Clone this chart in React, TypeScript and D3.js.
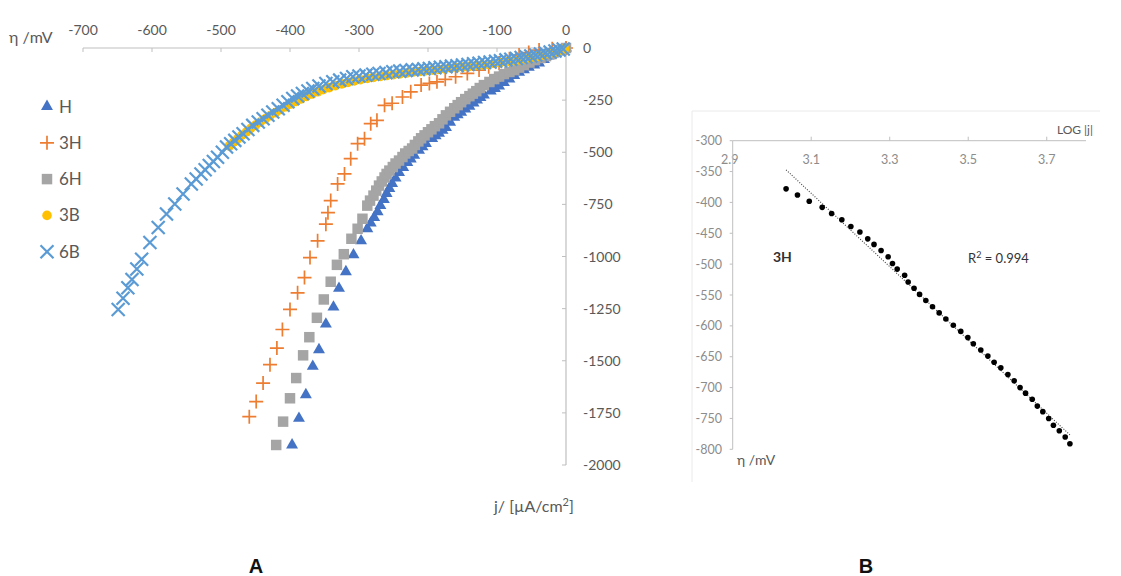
import React from 'react';
import * as d3 from 'd3';

type Pt = [number, number];

// ---- Panel A: polarisation curves (j in µA/cm², η in mV)
const J_TICKS = [-700, -600, -500, -400, -300, -200, -100, 0];
const ETA_TICKS = [0, -250, -500, -750, -1000, -1250, -1500, -1750, -2000];

const H_PTS: Pt[] = [
  [-397, -1904], [-387, -1776], [-377, -1663], [-367, -1527], [-358, -1447], [-348, -1324],
  [-337, -1243], [-329, -1153], [-319, -1073], [-308, -992], [-297, -925], [-288, -867],
  [-283, -840], [-278, -813], [-273, -785], [-269, -756], [-264, -727], [-260, -698],
  [-256, -674], [-252, -650], [-247, -624], [-242, -597], [-236, -573], [-230, -549],
  [-225, -532], [-220, -515], [-213, -491], [-208, -474], [-203, -458], [-194, -434],
  [-189, -421], [-184, -409], [-179, -395], [-174, -381], [-168, -356], [-162, -332],
  [-157, -320], [-152, -308], [-146, -293], [-140, -279], [-134, -264], [-129, -250],
  [-124, -238], [-119, -226], [-109, -207], [-103, -195], [-97, -183], [-90, -166],
  [-82, -149], [-75, -132], [-68, -116], [-61, -104], [-54, -92], [-46, -82], [-39, -72],
  [-32, -55], [-25, -39], [-19, -29], [-13, -19], [-6, -9], [0, 0],
];

const H3_PTS: Pt[] = [
  [-459, -1768], [-449, -1696], [-439, -1607], [-429, -1519], [-419, -1439], [-411, -1350],
  [-400, -1254], [-389, -1174], [-379, -1101], [-371, -1005], [-360, -925], [-348, -845],
  [-345, -790], [-341, -732], [-331, -652], [-321, -604], [-312, -531], [-302, -459],
  [-292, -435], [-283, -363], [-274, -347], [-263, -275], [-252, -265], [-237, -235],
  [-225, -210], [-210, -178], [-198, -170], [-187, -162], [-175, -150], [-160, -138],
  [-143, -122], [-126, -106], [-112, -90], [-97, -72], [-82, -52], [-68, -34], [-54, -22],
  [-39, -10], [-20, -4], [0, 0],
];

const H6_PTS: Pt[] = [
  [-420, -1904], [-410, -1792], [-400, -1680], [-391, -1583], [-381, -1474], [-372, -1387],
  [-361, -1294], [-351, -1206], [-341, -1121], [-332, -1040], [-322, -989], [-311, -915],
  [-302, -867], [-295, -819], [-288, -756], [-284, -732], [-279, -708], [-275, -684],
  [-271, -660], [-267, -640], [-263, -621], [-260, -604], [-256, -588], [-251, -571],
  [-247, -554], [-242, -540], [-237, -523], [-233, -506], [-228, -494], [-223, -482],
  [-219, -465], [-214, -448], [-210, -433], [-205, -419], [-200, -404], [-195, -390],
  [-190, -375], [-184, -361], [-179, -342], [-174, -323], [-168, -306], [-162, -289],
  [-157, -274], [-152, -260], [-146, -245], [-140, -231], [-135, -219], [-130, -207],
  [-125, -192], [-119, -178], [-111, -163], [-104, -149], [-97, -137], [-90, -125],
  [-82, -115], [-75, -106], [-68, -94], [-61, -82], [-53, -70], [-45, -58], [-37, -48],
  [-29, -39], [-21, -29], [-14, -19], [-7, -9], [0, 0],
];

const B3_PTS: Pt[] = [
  [-488, -470], [-482, -453], [-476, -436], [-470, -419], [-463, -402], [-457, -386],
  [-450, -370], [-443, -355], [-436, -340], [-429, -325], [-421, -310], [-414, -296],
  [-406, -282], [-399, -269], [-391, -256], [-384, -244], [-376, -232], [-368, -221],
  [-360, -210], [-352, -200], [-343, -190], [-334, -181], [-325, -172], [-316, -165],
  [-307, -158], [-298, -152], [-288, -146], [-279, -141], [-269, -136], [-260, -132],
  [-250, -128], [-241, -124], [-231, -120], [-222, -116], [-212, -113], [-203, -109],
  [-194, -106], [-185, -103], [-176, -100], [-167, -97], [-158, -94], [-149, -91],
  [-140, -88], [-131, -84], [-122, -81], [-113, -78], [-104, -74], [-95, -70],
  [-86, -66], [-77, -62], [-68, -57], [-59, -52], [-50, -46], [-41, -40], [-33, -34],
  [-24, -27], [-16, -20], [-9, -12], [-2, -4],
];

const B6_PTS: Pt[] = [
  [-649, -1254], [-642, -1200], [-635, -1150], [-629, -1110], [-622, -1060], [-615, -1013],
  [-603, -933], [-591, -861], [-579, -796], [-567, -748], [-555, -700], [-543, -652],
  [-536, -628], [-529, -604], [-523, -584], [-517, -564], [-511, -544], [-505, -524],
  [-498, -500], [-492, -475], [-486, -459], [-480, -443], [-474, -427], [-468, -411],
  [-461, -391], [-454, -371], [-446, -355], [-439, -339], [-432, -323], [-425, -307],
  [-417, -291], [-410, -275], [-403, -258], [-396, -242], [-389, -230], [-382, -218],
  [-374, -206], [-367, -194], [-358, -182], [-348, -170], [-338, -162], [-328, -154],
  [-318, -146], [-309, -138], [-300, -134], [-290, -130], [-280, -126], [-271, -122],
  [-261, -118], [-251, -114], [-241, -111], [-232, -108], [-223, -105], [-214, -103],
  [-206, -100], [-198, -98], [-190, -95], [-182, -92], [-174, -90], [-166, -87],
  [-158, -85], [-150, -82], [-142, -79], [-134, -76], [-126, -73], [-118, -70],
  [-110, -67], [-102, -64], [-95, -61], [-87, -57], [-80, -54], [-72, -50], [-65, -46],
  [-58, -42], [-51, -38], [-44, -34], [-37, -29], [-30, -24], [-23, -19], [-16, -14],
  [-10, -10], [-4, -5],
];

// ---- Panel B: Tafel plot for 3H (log|j|, η in mV)
const LOGJ_TICKS = [2.9, 3.1, 3.3, 3.5, 3.7];
const ETA_B_TICKS = [-300, -350, -400, -450, -500, -550, -600, -650, -700, -750, -800];

const TAFEL_PTS: Pt[] = [
  [3.036, -378], [3.065, -388], [3.095, -398], [3.128, -408], [3.152, -418], [3.178, -428],
  [3.201, -439], [3.224, -448], [3.244, -459], [3.260, -468], [3.278, -478], [3.296, -488],
  [3.307, -499], [3.319, -508], [3.338, -518], [3.347, -529], [3.362, -539], [3.376, -549],
  [3.392, -559], [3.409, -569], [3.426, -579], [3.443, -589], [3.462, -599], [3.481, -609],
  [3.499, -619], [3.513, -629], [3.532, -639], [3.550, -649], [3.566, -659], [3.583, -668],
  [3.601, -679], [3.617, -689], [3.632, -700], [3.646, -709], [3.663, -719], [3.676, -730],
  [3.690, -739], [3.705, -750], [3.717, -761], [3.732, -770], [3.747, -780], [3.759, -791],
];

type Shape = 'triangle' | 'plus' | 'square' | 'circle' | 'x';

const SERIES: { name: string; color: string; shape: Shape; data: Pt[] }[] = [
  { name: 'H', color: '#4472C4', shape: 'triangle', data: H_PTS },
  { name: '3H', color: '#ED7D31', shape: 'plus', data: H3_PTS },
  { name: '6H', color: '#A5A5A5', shape: 'square', data: H6_PTS },
  { name: '3B', color: '#FFC000', shape: 'circle', data: B3_PTS },
  { name: '6B', color: '#5B9BD5', shape: 'x', data: B6_PTS },
];

const FONT = "Lato, 'Open Sans', sans-serif";
const LABEL = '#595959';
const AXIS = '#BFBFBF';

const triPath = d3.symbol(d3.symbolTriangle, 62)()!;
const sqPath = d3.symbol(d3.symbolSquare, 110)()!;
const circPath = d3.symbol(d3.symbolCircle, 72)()!;

const Marker = ({ shape, color, x, y }: { shape: Shape; color: string; x: number; y: number }) => {
  const t = `translate(${x},${y})`;
  switch (shape) {
    case 'triangle':
      return <path transform={t} d={triPath} fill={color} />;
    case 'square':
      return <path transform={t} d={sqPath} fill={color} />;
    case 'circle':
      return <path transform={t} d={circPath} fill={color} />;
    case 'plus':
      return <path transform={t} d="M-7,0H7M0,-7V7" stroke={color} strokeWidth={1.7} fill="none" />;
    default:
      return <path transform={t} d="M-6.5,-6.5L6.5,6.5M-6.5,6.5L6.5,-6.5" stroke={color} strokeWidth={2.2} fill="none" />;
  }
};

function PanelA() {
  const x = d3.scaleLinear().domain([-700, 0]).range([83, 566]);
  const y = d3.scaleLinear().domain([-2000, 0]).range([465, 48]);

  return (
    <g fontFamily={FONT}>
      {/* top x axis */}
      <line x1={x(-700)} x2={x(0)} y1={y(0)} y2={y(0)} stroke={AXIS} strokeWidth={1.2} />
      {J_TICKS.map(t => (
        <g key={t}>
          <line x1={x(t)} x2={x(t)} y1={y(0)} y2={y(0) + 4} stroke={AXIS} />
          <text x={x(t)} y={35} textAnchor="middle" fontSize={14} fill={LABEL}>{t}</text>
        </g>
      ))}
      {/* right y axis at j = 0 */}
      <line x1={x(0)} x2={x(0)} y1={y(0)} y2={y(-2000)} stroke={AXIS} strokeWidth={1.2} />
      {ETA_TICKS.map(t => (
        <g key={t}>
          <line x1={x(0) - 4} x2={x(0)} y1={y(t)} y2={y(t)} stroke={AXIS} />
          <text x={583} y={y(t) + 5} fontSize={14} fill={LABEL}>{t}</text>
        </g>
      ))}
      <text x={9} y={43} fontSize={16} fill={LABEL}>η /mV</text>
      <text x={494} y={512} fontSize={16} fill={LABEL}>
        j/ [µA/cm<tspan dy={-6} fontSize={11}>2</tspan><tspan dy={6}>]</tspan>
      </text>

      {/* series */}
      {SERIES.map(s => (
        <g key={s.name}>
          {s.data.map((d, i) => (
            <Marker key={i} shape={s.shape} color={s.color} x={x(d[0])} y={y(d[1])} />
          ))}
        </g>
      ))}

      {/* legend */}
      {SERIES.map((s, i) => {
        const ly = 106.5 + i * 36.3;
        return (
          <g key={s.name}>
            <Marker shape={s.shape} color={s.color} x={47} y={ly} />
            <text x={59} y={ly + 6} fontSize={17} fill={LABEL}>{s.name}</text>
          </g>
        );
      })}

      <text x={256} y={573} textAnchor="middle" fontFamily="'Liberation Sans', Arial, sans-serif" fontWeight="bold" fontSize={20} fill="#111">A</text>
    </g>
  );
}

function PanelB() {
  const x = d3.scaleLinear().domain([2.9, 3.8]).range([732.7, 1086]);
  const y = d3.scaleLinear().domain([-800, -300]).range([449.3, 140.7]);

  // least-squares trendline, as Excel draws it over the data range
  const mx = d3.mean(TAFEL_PTS, d => d[0])!;
  const my = d3.mean(TAFEL_PTS, d => d[1])!;
  const slope = d3.sum(TAFEL_PTS, d => (d[0] - mx) * (d[1] - my)) / d3.sum(TAFEL_PTS, d => (d[0] - mx) ** 2);
  const [x0, x1] = d3.extent(TAFEL_PTS, d => d[0]) as [number, number];
  const fit = (v: number) => my + slope * (v - mx);

  const tickColor = '#8C8C8C';

  return (
    <g fontFamily={FONT}>
      {/* faint frame of the inset */}
      <path d="M692,482V111H1100" fill="none" stroke="#EAEAEA" strokeWidth={1} />

      <line x1={x(2.9)} x2={x(3.8)} y1={y(-300)} y2={y(-300)} stroke={AXIS} />
      {LOGJ_TICKS.map(t => (
        <g key={t}>
          {t > 2.9 && <line x1={x(t)} x2={x(t)} y1={y(-300) - 4} y2={y(-300)} stroke={AXIS} />}
          <text x={t === 2.9 ? x(t) - 3 : x(t)} y={164} textAnchor="middle" fontSize={12.5} fill={tickColor}>{t.toFixed(1)}</text>
        </g>
      ))}
      <text x={1093} y={134} textAnchor="end" fontSize={12} fill={LABEL}>LOG |j|</text>

      <line x1={x(2.9)} x2={x(2.9)} y1={y(-300)} y2={y(-800)} stroke={AXIS} />
      {ETA_B_TICKS.map(t => (
        <g key={t}>
          <line x1={x(2.9) - 3} x2={x(2.9)} y1={y(t)} y2={y(t)} stroke={AXIS} />
          <text x={722} y={y(t) + 4.5} textAnchor="end" fontSize={12.5} fill={tickColor}>{t}</text>
        </g>
      ))}
      <text x={737} y={465} fontSize={14} fill={LABEL}>η /mV</text>

      <line x1={x(x0)} y1={y(fit(x0))} x2={x(x1)} y2={y(fit(x1))} stroke="#404040" strokeWidth={1.1} strokeDasharray="1,1.6" />
      {TAFEL_PTS.map((d, i) => (
        <circle key={i} cx={x(d[0])} cy={y(d[1])} r={2.8} fill="#000" />
      ))}

      <text x={773} y={262} fontSize={14} fontWeight="bold" fill="#333">3H</text>
      <text x={968} y={263} fontSize={13} fill="#333">
        R<tspan dy={-5} fontSize={9}>2</tspan><tspan dy={5}> = 0.994</tspan>
      </text>

      <text x={866} y={573} textAnchor="middle" fontFamily="'Liberation Sans', Arial, sans-serif" fontWeight="bold" fontSize={20} fill="#111">B</text>
    </g>
  );
}

export default function App() {
  return (
    <svg
      width={1121}
      height={576}
      viewBox="0 0 1121 576"
      style={{ position: 'absolute', left: 0, top: 0, display: 'block', background: '#fff' }}
    >
      <rect width={1121} height={576} fill="#fff" />
      <PanelA />
      <PanelB />
    </svg>
  );
}
